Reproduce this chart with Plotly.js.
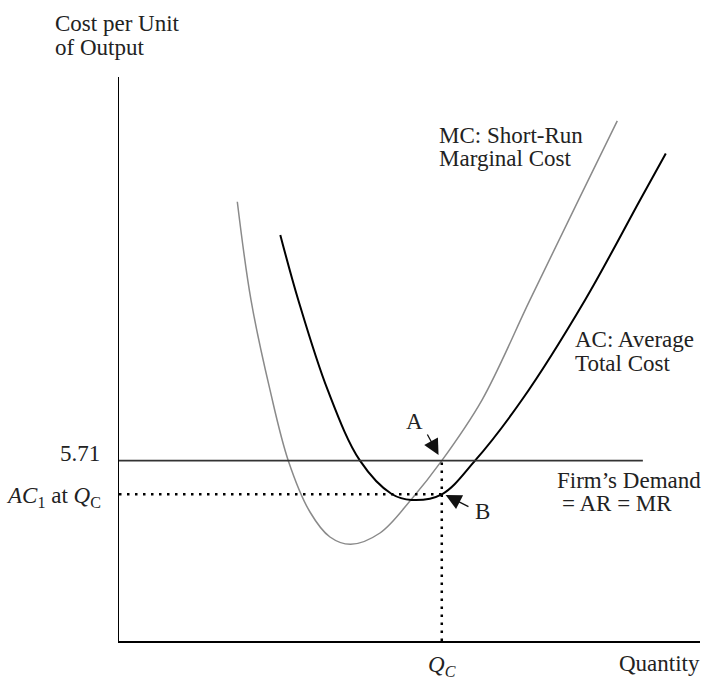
<!DOCTYPE html>
<html>
<head>
<meta charset="utf-8">
<script src="https://cdn.plot.ly/plotly-3.0.1.min.js"></script>
<style>html,body{margin:0;padding:0;background:#fff;}#chart{width:706px;height:679px;}</style>
</head>
<body>
<div id="chart"></div>
<script>
// ---- Data ----
// MC: short-run marginal cost
const mcQuantity = [3.665, 4.089, 4.678, 5.245, 5.917, 6.537, 7.178, 8.086, 9.067, 10.0, 11.245, 12.733, 14.235, 15.437];
const mcCost     = [13.91, 10.80, 7.95, 5.71, 4.085, 3.293, 3.062, 3.42, 4.497, 5.71, 7.63, 10.80, 13.96, 16.47];
// AC: average total cost
const acQuantity = [4.997, 5.554, 6.465, 7.466, 8.448, 9.067, 10.0, 11.03, 12.48, 14.44, 16.14, 16.94];
const acCost     = [12.86, 10.80, 7.95, 5.71, 4.655, 4.465, 4.645, 5.71, 7.63, 10.80, 13.96, 15.44];
// Firm's demand = AR = MR (horizontal at price)
const demandPrice = 5.71;
const demandQuantity = [0, 16.23];
// Competitive output and average cost there
const qC = 10;
const acAtQc = 4.645;
// Tick labels
const yTickLabels = ['5.71', '<i>AC</i><sub>1</sub> at <i>Q</i><sub>C</sub>'];
const xTickLabel = '<i>Q<sub>C</sub></i>';

// ---- Layout helpers (pixel -> paper) ----
const W = 706, H = 679, ML = 119, MR = 6, MT = 77, MB = 38;
const PW = W - ML - MR, PH = H - MT - MB;
const PX = x => (x - ML) / PW;
const PY = y => (H - MB - y) / PH;
const FONT = {family: 'Liberation Serif, Times New Roman, serif', size: 23, color: '#222'};

const traces = [
  {x: mcQuantity, y: mcCost, type: 'scatter', mode: 'lines',
   line: {color: '#8a8a8a', width: 1.5, shape: 'spline', smoothing: 1}, hoverinfo: 'skip'},
  {x: acQuantity, y: acCost, type: 'scatter', mode: 'lines',
   line: {color: '#000', width: 2, shape: 'spline', smoothing: 1}, hoverinfo: 'skip'},
  {x: demandQuantity, y: [demandPrice, demandPrice], type: 'scatter', mode: 'lines',
   line: {color: '#333', width: 1.8}, hoverinfo: 'skip'},
  {x: [0, qC], y: [acAtQc, acAtQc], type: 'scatter', mode: 'lines',
   line: {color: '#000', width: 2.5, dash: '2.5px,5.5px'}, hoverinfo: 'skip'},
  {x: [qC, qC], y: [0, demandPrice], type: 'scatter', mode: 'lines',
   line: {color: '#000', width: 2.5, dash: '2.5px,5.5px'}, hoverinfo: 'skip'}
];

function txt(text, x, y, xanchor) {
  return {text: text, xref: 'paper', yref: 'paper', x: PX(x), y: PY(y),
          xanchor: xanchor || 'left', yanchor: 'middle', showarrow: false, font: FONT};
}

const annotations = [
  txt('Cost per Unit', 53, 23.5),
  txt('of Output', 53, 47),
  txt('MC: Short-Run', 436.7, 135.5),
  txt('Marginal Cost', 436.7, 158.5),
  txt('AC: Average', 573, 339.5),
  txt('Total Cost', 573, 363),
  txt('Firm\u2019s Demand', 555, 480),
  txt('= AR = MR', 560, 503),
  txt('A', 414.3, 421.7, 'center'),
  txt('B', 482.5, 511.5, 'center'),
  txt('Quantity', 701.7, 663.5, 'right'),
  {text: yTickLabels[0], xref: 'paper', x: 0, xshift: -17, xanchor: 'right',
   yref: 'y', y: demandPrice, yshift: 6.7, yanchor: 'middle', showarrow: false, font: FONT},
  {text: yTickLabels[1], xref: 'paper', x: 0, xshift: -16, xanchor: 'right',
   yref: 'y', y: acAtQc, yshift: -3, yanchor: 'middle', showarrow: false, font: FONT},
  {text: xTickLabel, xref: 'x', x: qC, xanchor: 'center',
   yref: 'paper', y: PY(666), yanchor: 'middle', showarrow: false, font: FONT},
  {text: '', xref: 'x', yref: 'y', x: 9.9, y: 5.89, ax: -12, ay: -22,
   showarrow: true, arrowhead: 2, arrowsize: 2.4, arrowwidth: 1.3, arrowcolor: '#111'},
  {text: '', xref: 'x', yref: 'y', x: 10.12, y: 4.62, ax: 24.3, ay: 12.3,
   showarrow: true, arrowhead: 2, arrowsize: 2.4, arrowwidth: 1.3, arrowcolor: '#111'}
];

const layout = {
  width: W, height: H,
  margin: {l: ML, r: MR, t: MT, b: MB, pad: 0},
  paper_bgcolor: '#fff', plot_bgcolor: '#fff',
  showlegend: false,
  xaxis: {range: [0, 18], showline: true, linecolor: '#000', linewidth: 1.5,
          showgrid: false, zeroline: false, showticklabels: false, ticks: '', fixedrange: true},
  yaxis: {range: [0, 17.86], showline: true, linecolor: '#000', linewidth: 1.5,
          showgrid: false, zeroline: false, showticklabels: false, ticks: '', fixedrange: true},
  annotations: annotations,
  font: FONT
};

Plotly.newPlot('chart', traces, layout, {staticPlot: true, displayModeBar: false});
</script>
</body>
</html>
